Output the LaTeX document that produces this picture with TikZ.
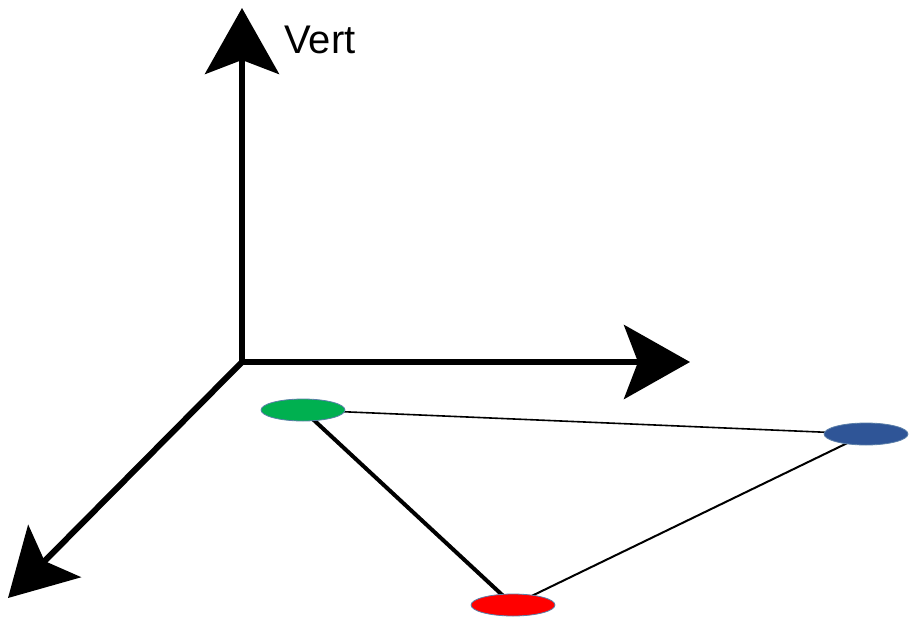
\documentclass[tikz,border=0pt]{standalone}
\usepackage{fontspec}
\setmainfont{Liberation Sans}
\usetikzlibrary{arrows.meta,backgrounds,shapes.geometric}
\definecolor{dotgreen}{HTML}{00B050}
\definecolor{dotblue}{HTML}{2F5597}
\definecolor{dotred}{HTML}{FF0000}
\definecolor{dotrim}{HTML}{5B7FA8}
\tikzset{
  axis/.style={line width=6pt,-{Stealth[length=66pt,width=74pt,inset=14pt]}},
  dot/.style={ellipse,draw=dotrim,line width=0.8pt,minimum width=84pt,minimum height=22pt,inner sep=0pt},
  thinlink/.style={line width=1.6pt},
  midlink/.style={line width=2pt},
  thicklink/.style={line width=4pt},
}
\begin{document}
\begin{tikzpicture}[x=1pt,y=-1pt]
\useasboundingbox (0,0) rectangle (912,618);
\coordinate (O) at (242,362);
\coordinate (V) at (242,8);
\coordinate (H) at (690,362);
\coordinate (D) at (8,598);
\draw[axis] (O) -- (V);
\draw[axis] (O) -- (H);
\draw[axis,line cap=round] (O) -- (D);
\node[font=\fontsize{40pt}{44pt}\selectfont] (vl) at (320,40) {Vert};
\node[dot,fill=dotgreen] (g) at (303,410) {};
\node[dot,fill=dotblue] (b) at (866,434) {};
\node[dot,fill=dotred] (r) at (513,605) {};
\begin{pgfonlayer}{background}
\draw[thinlink] (g.center) -- (b.center);
\draw[thicklink] (g.center) -- (r.center);
\draw[midlink] (b.center) -- (r.center);
\end{pgfonlayer}
\end{tikzpicture}
\end{document}
